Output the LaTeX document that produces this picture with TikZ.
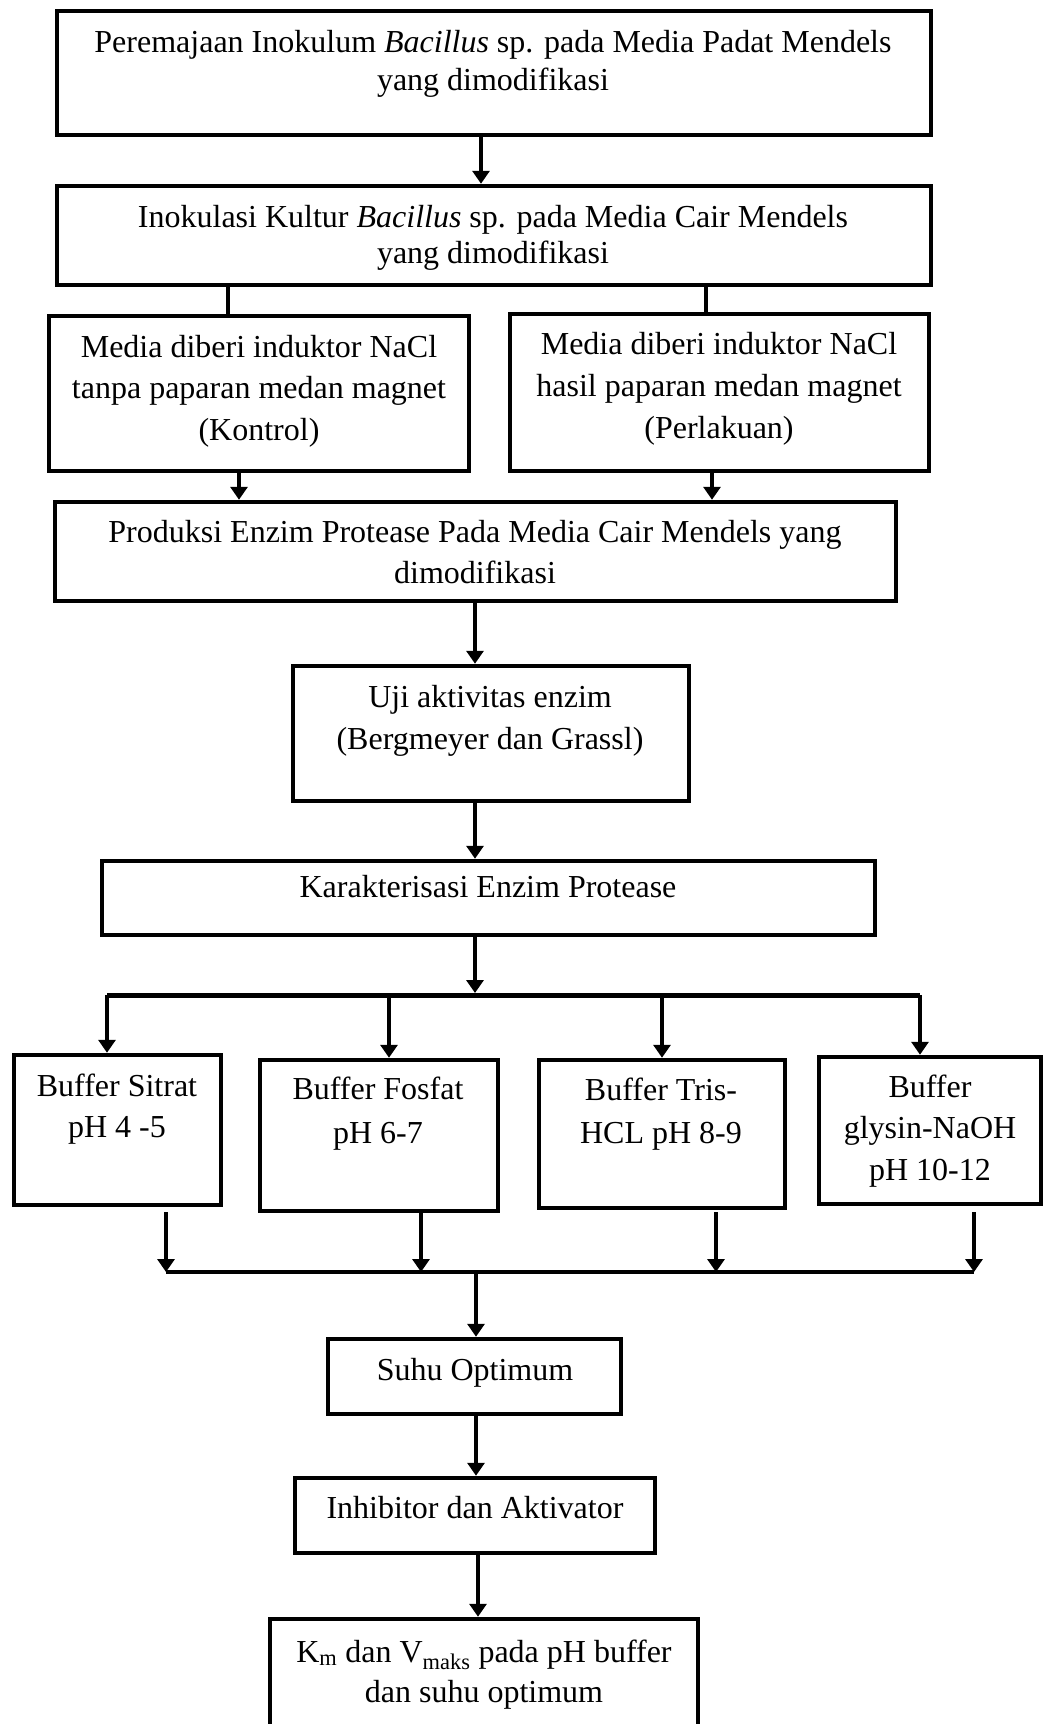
\documentclass[tikz,border=0pt]{standalone}
\usepackage{fontspec}
\setmainfont{Liberation Serif}
\usetikzlibrary{arrows.meta}
\begin{document}
\begin{tikzpicture}[x=1pt,y=-1pt,
  box/.style={draw,line width=4.5pt,rectangle,inner sep=0pt},
  txt/.style={anchor=north,align=center,inner sep=0pt},
  conn/.style={line width=4pt},
  arr/.style={line width=4pt,-{Triangle[width=17pt,length=13pt]}},
  bar/.style={line width=5pt}]
\clip (0,0) rectangle (1045,1724);
\fill[white] (0,0) rectangle (1045,1724);
% boxes
\node[box,minimum width=874pt,minimum height=124pt] (b1) at (494,73) {};
\node[box,minimum width=874pt,minimum height=99pt] (b2) at (494,235.5) {};
\node[box,minimum width=420pt,minimum height=155pt] (b3) at (259,393.5) {};
\node[box,minimum width=419pt,minimum height=157pt] (b4) at (719.5,392.5) {};
\node[box,minimum width=841pt,minimum height=99pt] (b5) at (475.5,551.5) {};
\node[box,minimum width=396pt,minimum height=135pt] (b6) at (491,733.5) {};
\node[box,minimum width=773pt,minimum height=74pt] (b7) at (488.5,898) {};
\node[box,minimum width=207pt,minimum height=150pt] (s1) at (117.5,1130) {};
\node[box,minimum width=238pt,minimum height=151pt] (s2) at (379,1135.5) {};
\node[box,minimum width=246pt,minimum height=148pt] (s3) at (662,1134) {};
\node[box,minimum width=222pt,minimum height=147pt] (s4) at (930,1130.5) {};
\node[box,minimum width=293pt,minimum height=75pt] (su) at (474.5,1376.5) {};
\node[box,minimum width=360pt,minimum height=75pt] (in) at (475,1515.5) {};
\node[box,minimum width=428pt,minimum height=130pt] (km) at (484,1684) {};
% texts
\node[txt,font=\fontsize{32}{38}\selectfont] (t1) at (493,25.4) {\strut Peremajaan Inokulum \textit{Bacillus} sp. pada Media Padat Mendels\\yang dimodifikasi};
\node[txt,font=\fontsize{32}{36}\selectfont] (t2) at (493,201.8) {\strut Inokulasi Kultur \textit{Bacillus} sp. pada Media Cair Mendels\\yang dimodifikasi};
\node[txt,font=\fontsize{32}{41.5}\selectfont] (t3) at (259,328) {\strut Media diberi induktor NaCl\\tanpa paparan medan magnet\\(Kontrol)};
\node[txt,font=\fontsize{32}{42}\selectfont] (t4) at (719,324.6) {\strut Media diberi induktor NaCl\\hasil paparan medan magnet\\(Perlakuan)};
\node[txt,font=\fontsize{32}{41}\selectfont] (t5) at (475,513.3) {\strut Produksi Enzim Protease Pada Media Cair Mendels yang\\dimodifikasi};
\node[txt,font=\fontsize{32}{42}\selectfont] (t6) at (490,677.6) {\strut Uji aktivitas enzim\\(Bergmeyer dan Grassl)};
\node[txt,font=\fontsize{32}{40}\selectfont] (t7) at (488,869) {\strut Karakterisasi Enzim Protease};
\node[txt,font=\fontsize{32}{41}\selectfont] (t8) at (117,1067.3) {\strut Buffer Sitrat\\pH 4 -5};
\node[txt,font=\fontsize{32}{44}\selectfont] (t9) at (378,1068.2) {\strut Buffer Fosfat\\pH 6-7};
\node[txt,font=\fontsize{32}{43}\selectfont] (t10) at (661,1069.9) {\strut Buffer Tris-\\HCL pH 8-9};
\node[txt,font=\fontsize{32}{41.5}\selectfont] (t11) at (930,1068) {\strut Buffer\\glysin-NaOH\\pH 10-12};
\node[txt,font=\fontsize{32}{40}\selectfont] (t12) at (475,1352) {\strut Suhu Optimum};
\node[txt,font=\fontsize{32}{40}\selectfont] (t13) at (475,1490) {\strut Inhibitor dan Aktivator};
\node[txt,font=\fontsize{32}{40}\selectfont] (t14) at (484,1634) {\strut K\textsubscript{m} dan V\textsubscript{maks} pada pH buffer\\dan suhu optimum};
% connectors
\draw[arr] (481,0 |- b1.south) -- (481,0 |- b2.north);
\draw[conn] (228,0 |- b2.south) -- (228,0 |- b3.north);
\draw[conn] (706,0 |- b2.south) -- (706,0 |- b4.north);
\draw[arr] (239,0 |- b3.south) -- (239,0 |- b5.north);
\draw[arr] (712,0 |- b4.south) -- (712,0 |- b5.north);
\draw[arr] (475,0 |- b5.south) -- (475,0 |- b6.north);
\draw[arr] (475,0 |- b6.south) -- (475,0 |- b7.north);
\coordinate (j1) at (475,993);
\coordinate (j1l) at (107,995);
\coordinate (j1r) at (920,995);
\draw[arr] (475,0 |- b7.south) -- (j1);
\draw[bar] (j1l) -- (j1r);
\draw[arr] (j1l) -- (107,0 |- s1.north);
\draw[arr] (389,995) -- (389,0 |- s2.north);
\draw[arr] (662,995) -- (662,0 |- s3.north);
\draw[arr] (j1r) -- (920,0 |- s4.north);
\coordinate (j2l) at (166,1272);
\coordinate (j2r) at (974,1272);
\draw[arr] (166,1212) -- (j2l);
\draw[arr] (421,1212) -- (421,1272);
\draw[arr] (716,1212) -- (716,1272);
\draw[arr] (974,1212) -- (j2r);
\draw[conn,line width=4.5pt] (j2l) -- (j2r);
\draw[arr] (476,1272) -- (476,0 |- su.north);
\draw[arr] (476,0 |- su.south) -- (476,0 |- in.north);
\draw[arr] (478,0 |- in.south) -- (478,0 |- km.north);
\end{tikzpicture}
\end{document}
